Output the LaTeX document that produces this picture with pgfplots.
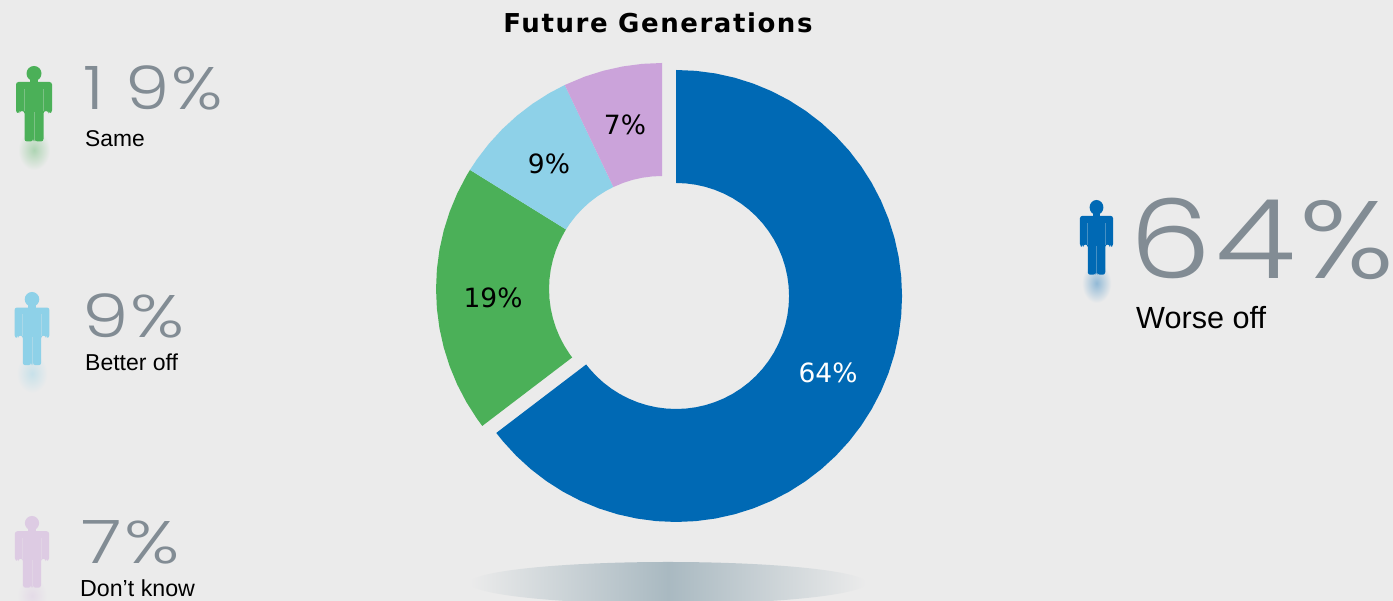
\documentclass[border=0pt]{standalone}
\usepackage{graphicx}
\usepackage{pgfplots}
\pgfplotsset{compat=1.18}
\usepackage{fontspec}
\setmainfont{Liberation Sans}
\newfontfamily\vrd{DejaVu Sans}
\newfontfamily\vrdt[LetterSpace=6]{DejaVu Sans}
\newfontfamily\thin[UprightFont=* Light,LetterSpace=3]{Poppins}
\definecolor{bg}{HTML}{EBEBEB}
\definecolor{cblue}{HTML}{0069B4}
\definecolor{cgreen}{HTML}{4BB058}
\definecolor{clight}{HTML}{8ED1E8}
\definecolor{cpurple}{HTML}{CBA3DA}
\definecolor{cgrey}{HTML}{828C94}
\definecolor{cshadow}{HTML}{A9B9C1}
% #1 centre x, #2 head top y (pixels from top), #3 xscale, #4 yscale, #5 colour, #6 reflection strength
\newcommand{\person}[6]{%
  \begin{scope}[shift={(#1,{601-#2})},xscale=#3,yscale=-#4]
    \shade[inner color=#5!#6!bg,outer color=bg] (0,84) ellipse (16 and 20);
    \fill[#5] (0,7.5) circle (7.5);
    \fill[#5] (-4,8) rectangle (4,17);
    \fill[#5,rounded corners=2.5pt] (-18,47) -- (-18,16) -- (18,16) -- (18,47) -- (14.5,47) -- (14.5,45) -- (9.5,45) -- (9.5,75.5) -- (1,75.5) -- (1,73) -- (-1,73) -- (-1,75.5) -- (-9.5,75.5) -- (-9.5,45) -- (-14.5,45) -- (-14.5,47) -- cycle;
    \draw[bg,opacity=.3,line width=.8pt] (-9.7,23) -- (-9.7,45) (9.7,23) -- (9.7,45) (0,46) -- (0,74);
  \end{scope}}
\begin{document}
\begin{tikzpicture}[x=1pt,y=1pt]
\useasboundingbox (0,0) rectangle (1393,601);
\fill[bg] (0,0) rectangle (1393,601);
\begin{scope}
\clip (0,0) rectangle (1393,601);
\shade[left color=bg,right color=bg,middle color=cshadow] (668,18) ellipse (198 and 21);
\end{scope}
\begin{axis}[at={(0,0)},anchor=south west,scale only axis,width=1393pt,height=601pt,
  xmin=-676,xmax=717,ymin=-305,ymax=296,hide axis,clip=false]
% Worse off 64%
\addplot[fill=cblue,draw=none,data cs=polar] coordinates {
(90,226)(85,226)(80,226)(75,226)(70,226)(65,226)(60,226)(55,226)(50,226)(45,226)(40,226)(35,226)(30,226)(25,226)(20,226)(15,226)(10,226)(5,226)(0,226)(-5,226)(-10,226)(-15,226)(-20,226)(-25,226)(-30,226)(-35,226)(-40,226)(-45,226)(-50,226)(-55,226)(-60,226)(-65,226)(-70,226)(-75,226)(-80,226)(-85,226)(-90,226)(-95,226)(-100,226)(-105,226)(-110,226)(-115,226)(-120,226)(-125,226)(-130,226)(-135,226)(-140,226)(-142.7,226)
(-142.7,113)(-140,113)(-135,113)(-130,113)(-125,113)(-120,113)(-115,113)(-110,113)(-105,113)(-100,113)(-95,113)(-90,113)(-85,113)(-80,113)(-75,113)(-70,113)(-65,113)(-60,113)(-55,113)(-50,113)(-45,113)(-40,113)(-35,113)(-30,113)(-25,113)(-20,113)(-15,113)(-10,113)(-5,113)(0,113)(5,113)(10,113)(15,113)(20,113)(25,113)(30,113)(35,113)(40,113)(45,113)(50,113)(55,113)(60,113)(65,113)(70,113)(75,113)(80,113)(85,113)(90,113)} -- cycle;
% Same 19%
\addplot[fill=cgreen,draw=none,data cs=polar,xshift=-14pt,yshift=7pt] coordinates {
(217.3,226)(215,226)(210,226)(205,226)(200,226)(195,226)(190,226)(185,226)(180,226)(175,226)(170,226)(165,226)(160,226)(155,226)(150,226)(148.2,226)
(148.2,113)(150,113)(155,113)(160,113)(165,113)(170,113)(175,113)(180,113)(185,113)(190,113)(195,113)(200,113)(205,113)(210,113)(215,113)(217.3,113)} -- cycle;
% Better off 9%
\addplot[fill=clight,draw=none,data cs=polar,xshift=-14pt,yshift=7pt] coordinates {
(148.2,226)(145,226)(140,226)(135,226)(130,226)(125,226)(120,226)(115.5,226)
(115.5,113)(120,113)(125,113)(130,113)(135,113)(140,113)(145,113)(148.2,113)} -- cycle;
% Don't know 7%
\addplot[fill=cpurple,draw=none,data cs=polar,xshift=-14pt,yshift=7pt] coordinates {
(115.5,226)(110,226)(105,226)(100,226)(95,226)(90,226)
(90,113)(95,113)(100,113)(105,113)(110,113)(115.5,113)} -- cycle;
\end{axis}
% title and slice labels
\node[anchor=base,inner sep=0] at (658,568) {\vrdt\bfseries\fontsize{26}{30}\selectfont Future Generations};
\node[anchor=base,inner sep=0] at (625,466) {\vrd\fontsize{26.5}{30}\selectfont 7\%};
\node[anchor=base,inner sep=0] at (549,427) {\vrd\fontsize{26.5}{30}\selectfont 9\%};
\node[anchor=base,inner sep=0] at (493,293) {\vrd\fontsize{26.5}{30}\selectfont 19\%};
\node[anchor=base,inner sep=0,text=white] at (828,218) {\vrd\fontsize{26.5}{30}\selectfont 64\%};
% side numbers
\node[anchor=base west,inner sep=0,text=cgrey] at (83,491) {\scalebox{1.18}[1]{\thin\fontsize{60}{64}\selectfont 1\kern18pt 9\%}};
\node[anchor=base west,inner sep=0,text=cgrey] at (82,263) {\scalebox{1.24}[1]{\thin\fontsize{60}{64}\selectfont 9\%}};
\node[anchor=base west,inner sep=0,text=cgrey] at (81,37) {\scalebox{1.27}[1]{\thin\fontsize{60}{64}\selectfont 7\%}};
\node[anchor=base west,inner sep=0,text=cgrey] at (1129,322) {\scalebox{1.19}[1]{\thin\fontsize{110}{115}\selectfont 64\%}};
\node[anchor=base west,inner sep=0] at (85,454) {\fontsize{22.8}{26}\selectfont Same};
\node[anchor=base west,inner sep=0] at (85,230) {\fontsize{23}{26}\selectfont Better off};
\node[anchor=base west,inner sep=0] at (80,4) {\fontsize{23.2}{26}\selectfont Don’t know};
\node[anchor=base west,inner sep=0] at (1136,272) {\fontsize{30.6}{36}\selectfont Worse off};
% icons
\begin{scope}
\clip (0,0) rectangle (1393,601);
\person{34}{66}{1}{1}{cgreen}{38}
\person{32}{292}{.97}{.97}{clight}{38}
\person{32}{516}{.95}{.95}{cpurple!45!bg}{50}
\person{1096.5}{200}{.92}{.99}{cblue}{38}
\end{scope}
\end{tikzpicture}
\end{document}
